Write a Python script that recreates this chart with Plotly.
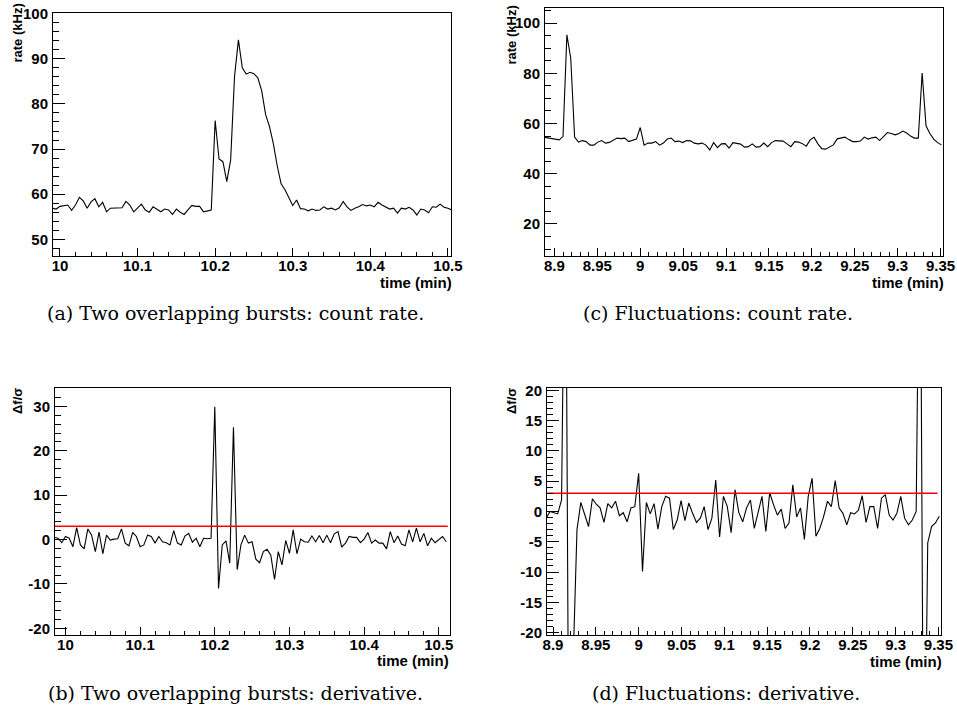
import plotly.graph_objects as go

W, H = 957, 707

# ---------------- data ----------------
# (a) two overlapping bursts: count rate (kHz), time grid start/step (min)
t0_a, dt_a = 9.99, 0.005
rate_a = [56.9, 56.7, 57.3, 57.5, 57.6, 56.4, 57.6, 59.3, 58.5, 56.9, 58.3, 59.0, 57.2, 58.2,
          56.1, 56.9, 56.9, 56.9, 57.0, 58.4, 57.6, 56.1, 57.0, 57.8, 56.5, 56.0, 57.2, 56.7,
          56.1, 56.7, 56.5, 55.5, 56.7, 56.0, 55.5, 56.5, 57.5, 57.3, 57.3, 56.1, 56.3, 56.5,
          76.3, 67.8, 67.2, 62.8, 67.6, 86.1,
          94.2, 88.0, 86.6, 87.0, 86.7, 85.8, 82.9, 77.7, 75.0, 71.2, 66.3, 62.3, 61.0, 59.3,
          57.5, 58.7, 56.8, 56.7,
          56.3, 56.7, 56.4, 56.5, 57.2, 56.7, 56.9, 56.5, 57.0, 58.4, 57.2, 56.4, 56.9, 57.2,
          57.7, 57.4, 57.6, 57.2, 58.2, 57.6, 57.1, 56.7, 56.9, 55.8, 56.9, 56.7, 57.1, 56.5,
          55.4, 56.7, 56.5, 55.9, 57.2, 57.1, 57.8, 57.1, 56.9, 56.5, 56.5]

# (b) two overlapping bursts: derivative (delta f / sigma)
t0_b, dt_b = 9.985, 0.005
deriv_b = [0.5, 0.3, -0.7, 0.7, 0.3, -1.6, 2.7, -1.2, -2.1, 2.4, 1.0, -2.7, 1.7, -3.2, 1.0,
           -0.1, 0.1, 0.2, 2.4, -0.8, -1.4, 1.6, 0.7, -1.6, -1.2, 1.0, 0.7, -0.8, 0.7, -0.5,
           -0.7, -1.2, 2.0, -0.8, -1.2, 0.8, 1.4, -0.6, 0.3, -1.6, 0.3, 0.2, 0.3,
           29.9, -11.0, -1.2, -0.3, -5.3, 25.3, -6.8, -1.2, 1.0, -0.8, -0.5, -4.4, -5.2, -2.7,
           -2.2, -3.5, -9.0, -2.7, -5.7, -0.2, -3.1, 2.2, -3.2,
           0.1, -0.5, -0.6, 0.8, -0.5, 0.9, -0.7, 1.0, -0.7, 1.3, 1.8, -1.7, -0.8, 0.7, 0.5,
           0.5, -0.7, 0.1, 1.6, -0.8, -0.1, -0.8, -0.8, -2.1, 1.8, -0.7, 0.8, -1.0, -1.4, 2.2,
           -0.5, 2.6, -0.5, 1.4, -1.4, 0.3, -0.7, -0.1, 0.7, -0.5]

# (c) fluctuations: count rate (kHz)
t0_c, dt_c = 8.8875, 0.0045
rate_c = [54.6, 54.3, 54.0, 53.8, 53.5, 54.8, 95.3, 86.0, 54.6, 52.6, 53.2, 52.8, 51.4, 51.4,
          52.6, 53.2, 52.2, 52.5, 53.2, 54.2, 54.0, 54.2, 52.8, 53.2, 53.8, 58.4, 51.4, 52.2,
          52.2, 52.8, 51.4, 52.2, 53.8, 54.2, 52.8, 53.0, 52.4, 53.2, 53.1, 52.2, 51.9, 52.2,
          51.4, 49.5, 52.4, 50.4, 51.9, 52.0, 50.2, 52.4, 52.2, 51.8, 50.6, 50.8, 51.9, 50.6,
          50.8, 52.2, 50.8, 52.4, 53.2, 53.0, 53.0, 51.9, 50.8, 52.8, 52.6, 52.0, 51.0, 53.5,
          54.5, 51.9, 50.0, 49.8, 50.8, 51.5, 53.9, 54.2, 54.6, 53.6, 52.8, 52.8, 53.0, 54.6,
          53.8, 54.3, 54.6, 53.2, 55.0, 56.4, 56.0, 55.5, 56.0, 57.0, 56.2, 55.0, 54.2, 54.2,
          80.1, 59.1, 56.0, 53.8, 52.4, 51.5]

# (d) fluctuations: derivative (delta f / sigma)
t0_d, dt_d = 8.8875, 0.0045
deriv_d = [-1.5, -1.1, 0.0, -0.2, -0.4, 1.9, 60.0, -60.0, -25.0, -3.0, 1.5, -0.5, -2.5, 2.1,
           1.2, 0.6, -1.8, 1.3, 0.6, 1.7, -0.7, -0.2, -1.7, 0.6, 0.8, 6.3, -9.9, 1.5, -0.4,
           1.3, -2.9, 0.8, 2.5, 2.2, -3.0, -1.4, 1.8, -1.5, 1.4, -0.3, -1.8, -1.1, 0.8, -3.0,
           -1.1, 5.2, -4.2, 2.5, 0.8, -3.5, 3.6, -0.2, -1.7, 0.6, 1.9, -2.8, -0.3, 2.5, -3.3,
           3.1, 1.1, -0.6, 0.4, -2.8, -1.9, 4.4, -0.9, 0.6, -4.6, 2.5, 5.5, -4.1, -2.8, -0.8,
           1.7, 0.8, 5.1, 0.6, -0.3, -2.2, -0.2, -0.4, 0.2, 2.6, -1.8, 0.8, 0.8, -2.8, 2.2,
           2.8, -0.6, -1.4, -0.3, 2.5, -1.1, -2.2, -1.4, 0.0, 60.0, -60.0, -5.2, -2.5, -1.9,
           -0.8]

threshold = 3.0
thr_x_b = [9.986, 10.512]
thr_x_d = [8.893, 9.349]

# axis ranges
xr_a, yr_a = [9.991, 10.504], [46.3, 100.15]
xr_b, yr_b = [9.986, 10.515], [-21.5, 34.15]
xr_c, yr_c = [8.889, 9.3528], [7.25, 106.0]
xr_d, yr_d = [8.893, 9.353], [-20.4, 20.4]

# tick labels
xt_ab = [10.0, 10.1, 10.2, 10.3, 10.4, 10.5]
xt_ab_txt = ["10", "10.1", "10.2", "10.3", "10.4", "10.5"]
xt_cd = [8.9, 8.95, 9.0, 9.05, 9.1, 9.15, 9.2, 9.25, 9.3, 9.35]
xt_cd_txt = ["8.9", "8.95", "9", "9.05", "9.1", "9.15", "9.2", "9.25", "9.3", "9.35"]
yt_a = [50, 60, 70, 80, 90, 100]
yt_c = [20, 40, 60, 80, 100]
yt_b = [-20, -10, 0, 10, 20, 30]
yt_d = [-20, -15, -10, -5, 0, 5, 10, 15, 20]

captions = ["(a) Two overlapping bursts: count rate.",
            "(c) Fluctuations: count rate.",
            "(b) Two overlapping bursts: derivative.",
            "(d) Fluctuations: derivative."]

# ---------------- figure ----------------
def grid(t0, dt, n):
    return [t0 + dt * i for i in range(n)]

def dom_x(x0, x1):
    return [x0 / W, x1 / W]

def dom_y(y0, y1):
    return [1 - y1 / H, 1 - y0 / H]

TICKFONT = dict(family="Liberation Sans", size=15, color="black", weight="bold")

def xaxis(dom, rng, tv, tt, minor_dt, anchor):
    return dict(domain=dom, range=rng, anchor=anchor, tickmode="array", tickvals=tv,
                ticktext=tt, ticks="inside", ticklen=8, tickwidth=1, tickcolor="black",
                minor=dict(ticks="inside", ticklen=4, tickwidth=1, tickcolor="black",
                           tickmode="linear", tick0=0, dtick=minor_dt, showgrid=False),
                showline=True, linecolor="black", linewidth=1, mirror=True, automargin=False,
                showgrid=False, zeroline=False, tickfont=TICKFONT, ticklabelstandoff=-4)

def yaxis(dom, rng, tv, minor_dt, anchor):
    return dict(domain=dom, range=rng, anchor=anchor, tickmode="array", tickvals=tv,
                ticktext=[str(v) for v in tv], ticks="inside", ticklen=12, tickwidth=1,
                tickcolor="black",
                minor=dict(ticks="inside", ticklen=6, tickwidth=1, tickcolor="black",
                           tickmode="linear", tick0=0, dtick=minor_dt, showgrid=False),
                showline=True, linecolor="black", linewidth=1, mirror=True, automargin=False,
                showgrid=False, zeroline=False, tickfont=TICKFONT, ticklabelstandoff=1)

fig = go.Figure()
line = dict(color="black", width=1.1)
fig.add_trace(go.Scatter(x=grid(t0_a, dt_a, len(rate_a)), y=rate_a, mode="lines", line=line,
                         xaxis="x", yaxis="y"))
fig.add_trace(go.Scatter(x=grid(t0_c, dt_c, len(rate_c)), y=rate_c, mode="lines", line=line,
                         xaxis="x2", yaxis="y2"))
fig.add_trace(go.Scatter(x=grid(t0_b, dt_b, len(deriv_b)), y=deriv_b, mode="lines", line=line,
                         xaxis="x3", yaxis="y3"))
fig.add_trace(go.Scatter(x=thr_x_b, y=[threshold, threshold], mode="lines",
                         line=dict(color="red", width=1.5), xaxis="x3", yaxis="y3"))
fig.add_trace(go.Scatter(x=grid(t0_d, dt_d, len(deriv_d)), y=deriv_d, mode="lines", line=line,
                         xaxis="x4", yaxis="y4"))
fig.add_trace(go.Scatter(x=thr_x_d, y=[threshold, threshold], mode="lines",
                         line=dict(color="red", width=1.5), xaxis="x4", yaxis="y4"))

fig.update_layout(
    width=W, height=H, margin=dict(l=0, r=0, t=0, b=0, autoexpand=False),
    paper_bgcolor="white", plot_bgcolor="white", showlegend=False,
    xaxis=xaxis(dom_x(53, 451), xr_a, xt_ab, xt_ab_txt, 0.02, "y"),
    yaxis=yaxis(dom_y(13, 256), yr_a, yt_a, 2, "x"),
    xaxis2=xaxis(dom_x(545, 943), xr_c, xt_cd, xt_cd_txt, 0.01, "y2"),
    yaxis2=yaxis(dom_y(8, 256), yr_c, yt_c, 5, "x2"),
    xaxis3=xaxis(dom_x(55, 450), xr_b, xt_ab, xt_ab_txt, 0.02, "y3"),
    yaxis3=yaxis(dom_y(388, 635), yr_b, yt_b, 2, "x3"),
    xaxis4=xaxis(dom_x(547, 941), xr_d, xt_cd, xt_cd_txt, 0.01, "y4"),
    yaxis4=yaxis(dom_y(388, 635), yr_d, yt_d, 1, "x4"),
)

TITLEFONT_X = dict(family="Liberation Sans", size=15, color="black", weight="bold")
TITLEFONT_Y = dict(family="Liberation Sans", size=13, color="black", weight="bold")
CAPFONT = dict(family="DejaVu Serif", size=19, color="black")

def ann(text, px, py, font, xa="center", ya="middle", angle=0):
    fig.add_annotation(text=text, x=px / W, y=1 - py / H, xref="paper", yref="paper",
                       xanchor=xa, yanchor=ya, showarrow=False, font=font, textangle=angle,
                       borderpad=0)

ann("time (min)", 453, 283, TITLEFONT_X, xa="right")
ann("time (min)", 945, 283, TITLEFONT_X, xa="right")
ann("time (min)", 450, 660, TITLEFONT_X, xa="right")
ann("time (min)", 943, 661, TITLEFONT_X, xa="right")
ann("rate (kHz)", 17, 3, TITLEFONT_Y, ya="top", angle=-90)
ann("rate (kHz)", 511, 5, TITLEFONT_Y, ya="top", angle=-90)
ann("Δf/σ", 17, 387, TITLEFONT_Y, ya="top", angle=-90)
ann("Δf/σ", 511, 387, TITLEFONT_Y, ya="top", angle=-90)
ann(captions[0], 235, 313, CAPFONT)
ann(captions[1], 718, 313, CAPFONT)
ann(captions[2], 235, 693, CAPFONT)
ann(captions[3], 726, 693, CAPFONT)

fig.write_html("out.html", config={"responsive": False, "displayModeBar": False},
               post_script="document.body.style.margin='0';"
                           "document.body.style.overflow='hidden';")
